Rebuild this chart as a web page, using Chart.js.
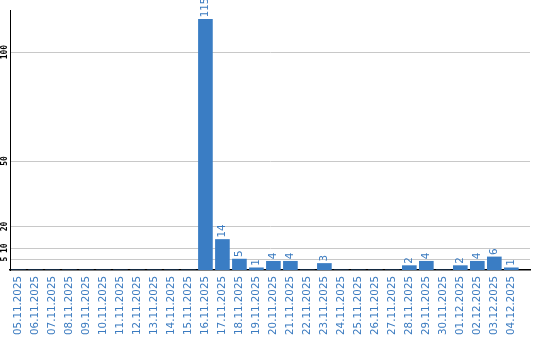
<!DOCTYPE html>
<html>
<head>
<meta charset="utf-8">
<script src="https://cdn.jsdelivr.net/npm/chart.js@4"></script>
<style>
  html, body { margin: 0; padding: 0; background: #fff; }
  #wrap { width: 540px; height: 340px; }
</style>
</head>
<body>
<div id="wrap"><canvas id="c" width="540" height="340"></canvas></div>
<script>
const categories = [
  "05.11.2025","06.11.2025","07.11.2025","08.11.2025","09.11.2025","10.11.2025",
  "11.11.2025","12.11.2025","13.11.2025","14.11.2025","15.11.2025","16.11.2025",
  "17.11.2025","18.11.2025","19.11.2025","20.11.2025","21.11.2025","22.11.2025",
  "23.11.2025","24.11.2025","25.11.2025","26.11.2025","27.11.2025","28.11.2025",
  "29.11.2025","30.11.2025","01.12.2025","02.12.2025","03.12.2025","04.12.2025"
];
const values = [
  0,0,0,0,0,0,
  0,0,0,0,0,115,
  14,5,1,4,4,0,
  3,0,0,0,0,2,
  4,0,2,4,6,1
];
const yTickValues = [5, 10, 20, 50, 100];

const barColor = '#3a7dc4';
const textBlue = '#3b7bc0';
const labelFont = { family: 'DejaVu Sans', size: 10.3 };

const valueLabels = {
  id: 'valueLabels',
  afterDatasetsDraw(chart) {
    const ctx = chart.ctx;
    const meta = chart.getDatasetMeta(0);
    ctx.save();
    ctx.font = labelFont.size + 'px "' + labelFont.family + '"';
    ctx.fillStyle = textBlue;
    ctx.textAlign = 'left';
    ctx.textBaseline = 'middle';
    meta.data.forEach((bar, i) => {
      const v = values[i];
      if (!v) return;
      ctx.save();
      ctx.translate(bar.x, bar.y - 2);
      ctx.rotate(-Math.PI / 2);
      ctx.fillText(String(v), 0, 0);
      ctx.restore();
    });
    ctx.restore();
  }
};

new Chart(document.getElementById('c'), {
  type: 'bar',
  data: {
    datasets: [{
      data: values.map((v, i) => ({ x: i, y: v })),
      backgroundColor: barColor,
      borderWidth: 0,
      barThickness: 14
    }]
  },
  plugins: [valueLabels],
  options: {
    responsive: false,
    animation: false,
    devicePixelRatio: 1,
    layout: { padding: { top: 10, right: 10, left: 0, bottom: 0 } },
    plugins: { legend: { display: false }, tooltip: { enabled: false } },
    scales: {
      x: {
        type: 'linear',
        min: -0.5,
        max: 30.1,
        offset: false,
        afterBuildTicks: s => { s.ticks = categories.map((_, i) => ({ value: i })); },
        afterFit: s => { s.height = 70; },
        ticks: {
          autoSkip: false,
          minRotation: 90,
          maxRotation: 90,
          padding: -2,
          color: textBlue,
          font: labelFont,
          callback: v => categories[v]
        },
        grid: { display: false },
        border: { display: true, color: '#000', width: 1.5 }
      },
      y: {
        min: 0,
        max: 119.3,
        afterBuildTicks: s => { s.ticks = yTickValues.map(v => ({ value: v })); },
        afterFit: s => { s.width = 10; },
        ticks: {
          minRotation: 90,
          maxRotation: 90,
          crossAlign: 'center',
          padding: -2,
          color: '#000',
          font: { family: 'DejaVu Sans Mono', size: 8, weight: 'bold' }
        },
        grid: { color: '#c8c8c8', drawTicks: false, lineWidth: 1 },
        border: { display: true, color: '#000', width: 1 }
      }
    }
  }
});
</script>
</body>
</html>
